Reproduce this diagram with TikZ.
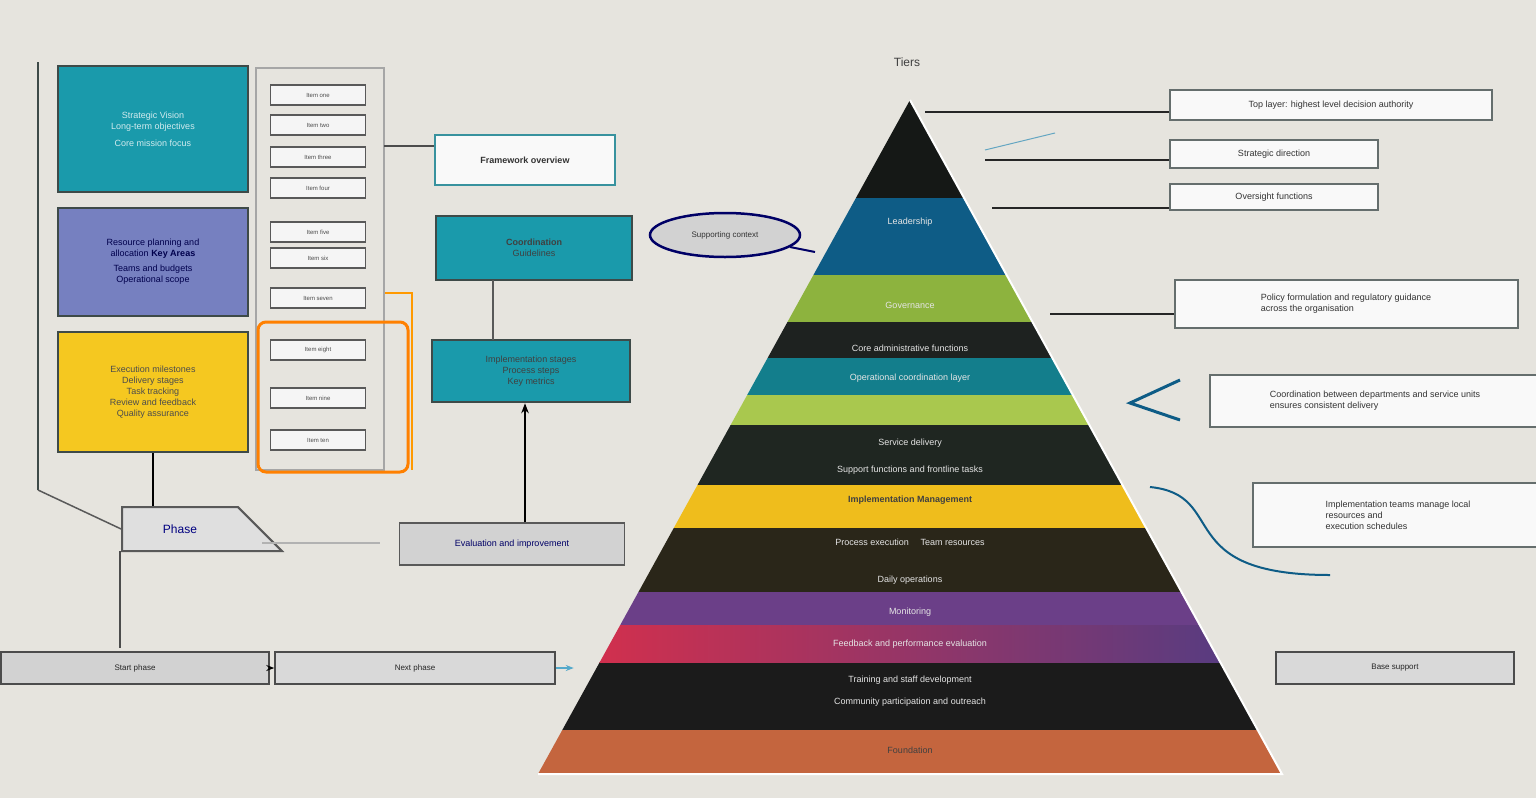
\documentclass[tikz,border=0pt]{standalone}
\usepackage{fontspec}
\setmainfont{Liberation Sans}
\usetikzlibrary{shapes.geometric,arrows.meta}
\definecolor{bg}{HTML}{E6E4DE}
\definecolor{tealc}{HTML}{1A9AAB}
\definecolor{bluec}{HTML}{7680C0}
\definecolor{yelc}{HTML}{F5C820}
\definecolor{frame}{HTML}{3E4A48}
\definecolor{p1}{HTML}{151816}
\definecolor{p2}{HTML}{0E5C86}
\definecolor{p3}{HTML}{8DB33E}
\definecolor{p4}{HTML}{1E2220}
\definecolor{p5}{HTML}{137E8C}
\definecolor{p6}{HTML}{A9C84E}
\definecolor{p7}{HTML}{1F2621}
\definecolor{p8}{HTML}{EFBD1C}
\definecolor{p9}{HTML}{2A2619}
\definecolor{p10}{HTML}{6B3F88}
\definecolor{p11}{HTML}{1B1B1B}
\definecolor{p12}{HTML}{C4653E}
\definecolor{pr}{HTML}{DE2E48}
\definecolor{pb}{HTML}{4B3D86}
\tikzset{
 card/.style={draw=frame,line width=2.5pt,inner sep=0pt,font=\fontsize{9}{11}\selectfont,align=center},
 minib/.style={draw=gray!70!black,fill=white!92!gray,line width=1.5pt,minimum width=95pt,minimum height=20pt,font=\fontsize{6}{7}\selectfont,text=gray!60!black},
 call/.style={draw=frame!80,fill=white!95!gray,line width=2pt,font=\fontsize{9}{11}\selectfont,align=left,text=gray!40!black,inner sep=4pt},
 lead/.style={line width=2pt,draw=black!85},
 band/.style={font=\fontsize{9}{11}\selectfont,text=white!80!gray}
}
\begin{document}
\begin{tikzpicture}[x=1pt,y=-1pt]
\fill[bg] (0,0) rectangle (1536,798);
\useasboundingbox (0,0) rectangle (1536,798);
\draw[line width=2pt,frame] (38,62) -- (38,490) coordinate (lb);
\node[card,fill=tealc,text=white!80!tealc,minimum width=190pt,minimum height=126pt] (t1) at (153,129) {Strategic Vision\\ Long-term objectives\\[6pt] Core mission focus};
\node[card,fill=bluec,text=blue!30!black,minimum width=190pt,minimum height=108pt] (t2) at (153,262) {Resource planning and\\ allocation \textbf{Key Areas}\\[4pt] Teams and budgets\\ Operational scope};
\node[card,fill=yelc,text=black!70,minimum width=190pt,minimum height=120pt] (t3) at (153,392) {Execution milestones\\ Delivery stages\\ Task tracking\\ Review and feedback\\ Quality assurance};
\draw[line width=1.5pt,gray!70] (256,68) rectangle (384,470);
\foreach \y/\t in {95/Item one,125/Item two,157/Item three,188/Item four,232/Item five,258/Item six,298/Item seven,350/Item eight,398/Item nine,440/Item ten}
  \node[minib] (m\y) at (318,\y) {\t};
\draw[orange,line width=3pt,rounded corners=8pt] (258,322) rectangle (408,472);
\node[trapezium,trapezium left angle=90,trapezium right angle=45,draw=gray!70!black,fill=gray!25,line width=2pt,minimum width=138pt,minimum height=44pt,font=\fontsize{12}{13}\selectfont,text=blue!50!black] (ph) at (180,529) {Phase};
\draw[line width=2.5pt] (t3.south) -- (ph.north -| t3.south);
\draw[line width=1.5pt,gray!70!black] (lb) -- (ph.west);
\draw[line width=1.5pt,gray!60] (262,543) -- (380,543);
\coordinate (pbt) at (120,648);
\draw[line width=2pt,gray!60!black] (120,551) -- (pbt);
\node[draw=gray!60!black,fill=gray!35,line width=1.5pt,minimum width=268pt,minimum height=32pt,font=\fontsize{8}{9}\selectfont,text=gray!30!black] (bar1) at (135,668) {Start phase};
\node[draw=gray!60!black,fill=gray!30,line width=1.5pt,minimum width=280pt,minimum height=32pt,font=\fontsize{8}{9}\selectfont,text=gray!30!black] (bar2) at (415,668) {Next phase};
\draw[-{Stealth[length=8pt]},line width=1.5pt] (bar1.east) -- (bar2.west);
\draw[-{Stealth[length=8pt]},line width=1.5pt,cyan!60!gray] (bar2.east) -- ++(18,0);
\node[call,draw=tealc!70!gray,minimum width=180pt,minimum height=50pt,align=center] (c1) at (525,160) {\textbf{Framework overview}};
\node[card,fill=tealc,text=black!75,minimum width=196pt,minimum height=64pt] (c2) at (534,248) {\textbf{Coordination}\\ Guidelines};
\node[card,fill=tealc,text=black!75,minimum width=198pt,minimum height=62pt] (c3) at (531,371) {Implementation stages\\ Process steps\\ Key metrics};
\draw[line width=1.5pt,gray!70!black] (493,280) -- (493,340);
\draw[line width=2pt,orange!80!yellow] (385,293) -- (412,293) -- (412,470);
\coordinate (k1) at (384,146);
\draw[line width=2pt,gray!60!black] (k1) -- (k1 -| c1.west);
\node[draw=gray!70!black,fill=gray!35,line width=1.5pt,minimum width=225pt,minimum height=42pt,font=\fontsize{9}{10}\selectfont,text=blue!40!black] (c4) at (512,544) {Evaluation and improvement};
\draw[-{Stealth[length=10pt]},line width=2.5pt] (c4.north -| 525,0) -- (c3.south -| 525,0);
\coordinate (e1) at (815,252);
\draw[line width=2pt,blue!40!black] (790,247) -- (e1);
\node[ellipse,draw=blue!40!black,fill=gray!35,line width=2.5pt,minimum width=150pt,minimum height=44pt,font=\fontsize{8}{9}\selectfont,text=gray!40!black] (el) at (725,235) {Supporting context};
\node[font=\fontsize{12}{13}\selectfont,text=gray!50!black] (title) at (907,62) {Tiers};
\begin{scope}
\clip (910,100) -- (1282,774) -- (538,774) -- cycle;
\foreach \a/\b/\c in {100/198/p1,198/275/p2,275/322/p3,322/358/p4,358/395/p5,395/425/p6,425/485/p7,485/528/p8,528/592/p9,592/625/p10,662/730/p11,730/776/p12}
  \fill[\c] (530,\a) rectangle (1290,\b);
\shade[left color=pr,right color=pb] (530,625) rectangle (1290,662);
\end{scope}
\draw[white,line width=2pt] (910,100) -- (1282,774) -- (538,774);
\node[band] (b1) at (910,222) {Leadership};
\node[band] (b2) at (910,305) {Governance};
\node[band] (b3) at (910,348) {Core administrative functions};
\node[band] (b4) at (910,378) {Operational coordination layer};
\node[band] (b5) at (910,443) {Service delivery};
\node[band] (b6) at (910,470) {Support functions and frontline tasks};
\node[band,text=black!75] (b7) at (910,500) {\textbf{Implementation Management}};
\node[band] (b8) at (910,542) {Process execution \quad Team resources};
\node[band] (b9) at (910,580) {Daily operations};
\node[band] (b10) at (910,612) {Monitoring};
\node[band] (b11) at (910,644) {Feedback and performance evaluation};
\node[band] (b12) at (910,680) {Training and staff development};
\node[band] (b13) at (910,702) {Community participation and outreach};
\node[band,text=black!75] (b14) at (910,750) {Foundation};
\node[call,minimum width=322pt,minimum height=30pt] (r1) at (1331,105) {Top layer: highest level decision authority};
\node[call,minimum width=208pt,minimum height=28pt] (r2) at (1274,154) {Strategic direction};
\node[call,minimum width=208pt,minimum height=26pt] (r3) at (1274,197) {Oversight functions};
\node[call,minimum width=343pt,minimum height=48pt] (r4) at (1346,304) {Policy formulation and regulatory guidance\\ across the organisation};
\node[call,minimum width=330pt,minimum height=52pt] (r5) at (1375,401) {Coordination between departments and service units\\ ensures consistent delivery};
\node[call,minimum width=290pt,minimum height=64pt] (r6) at (1398,515) {Implementation teams manage local\\ resources and\\ execution schedules};
\node[draw=gray!60!black,fill=gray!30,line width=1.5pt,minimum width=238pt,minimum height=32pt,font=\fontsize{8}{9}\selectfont,text=gray!30!black] (r7) at (1395,668) {Base support};
\coordinate (l1) at (925,112); \coordinate (l2) at (985,160);
\coordinate (l3) at (992,208); \coordinate (l4) at (1050,314);
\draw[lead] (l1) -- (l1 -| r1.west);
\draw[lead] (l2) -- (l2 -| r2.west);
\draw[lead] (l3) -- (l3 -| r3.west);
\draw[lead] (l4) -- (l4 -| r4.west);
\draw[line width=1pt,cyan!50!gray] (985,150) -- (1055,133);
\draw[line width=3pt,p2] (1180,380) -- (1130,403) -- (1180,420);
\draw[line width=2pt,p2] (1150,487) .. controls (1230,495) and (1170,575) .. (1330,575);
\end{tikzpicture}
\end{document}
